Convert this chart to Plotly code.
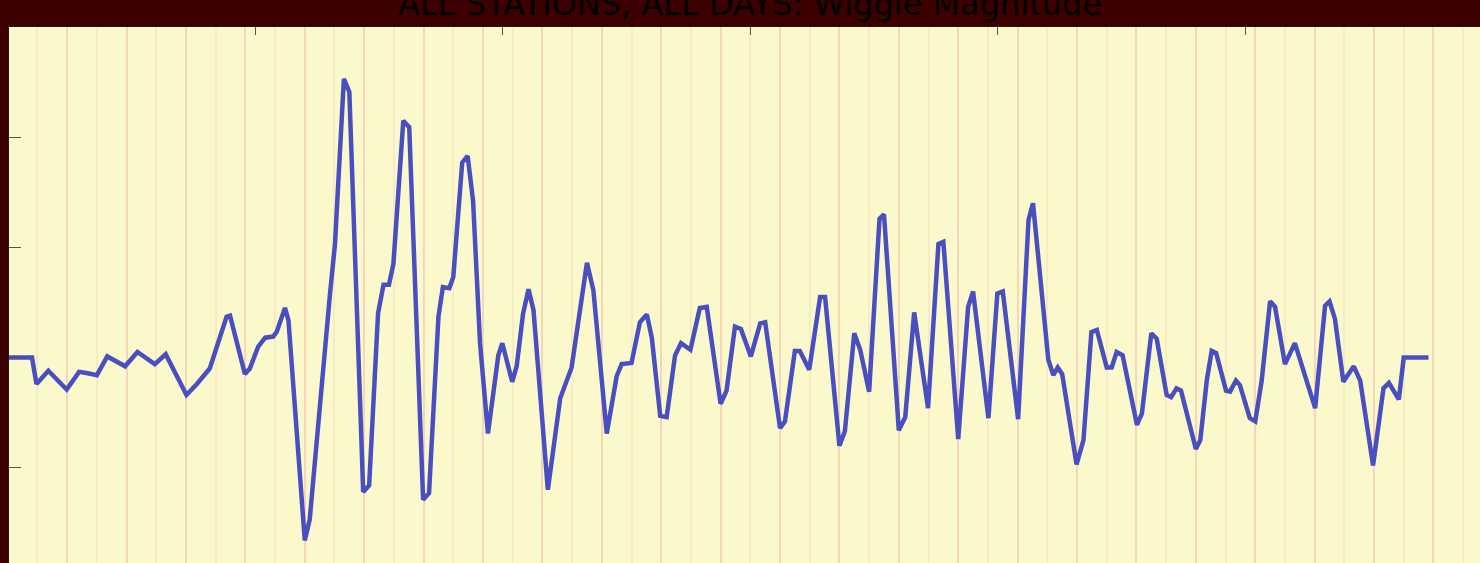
import plotly.graph_objects as go

# Hours (x) and wiggle magnitude (y)
hours = [0, 4.9, 5.8, 8.2, 11.9, 14.4, 15.9, 18.0, 20.1, 23.7, 26.2, 29.7, 31.9, 36.1, 38.2, 40.8,
         44.2, 44.9, 47.9, 48.9, 50.6, 52.0, 53.6, 54.3, 56.0, 56.7, 60.0, 61.0, 65.1, 66.1, 67.9,
         69.0, 71.8, 73.0, 74.8, 75.9, 77.0, 77.9, 79.9, 81.1, 83.9, 85.1, 87.0, 87.9, 89.2, 90.0,
         91.8, 92.9, 94.0, 95.4, 97.0, 99.1, 99.9, 101.9, 102.8, 104.1, 105.2, 106.2, 109.1, 111.6,
         113.9, 115.3, 117.0, 118.3, 121.0, 123.0, 124.0, 126.0, 127.7, 129.1, 130.1, 131.8, 133.1,
         134.8, 136.0, 137.9, 139.8, 141.2, 144.0, 145.2, 146.9, 148.1, 150.1, 152.0, 153.0, 156.0,
         157.0, 159.0, 160.0, 161.9, 164.1, 165.1, 168.0, 169.1, 171.0, 172.2, 174.0, 176.1, 177.0,
         180.0, 181.3, 183.1, 185.9, 188.0, 189.0, 192.0, 194.0, 195.0, 198.1, 199.9, 201.0, 204.1,
         206.2, 207.1, 210.2, 211.2, 212.1, 213.0, 215.9, 217.3, 218.9, 220.0, 222.0, 223.0, 224.0,
         225.2, 228.1, 229.1, 231.0, 232.1, 234.1, 235.0, 236.1, 237.0, 240.0, 240.9, 242.2, 243.2,
         244.1, 246.1, 246.9, 248.1, 248.9, 250.9, 252.0, 253.3, 255.0, 256.0, 258.0, 260.0, 261.7,
         264.1, 266.1, 267.0, 268.1, 269.8, 271.9, 273.2, 275.8, 277.9, 279.0, 281.0, 282.0, 287.0]

magnitude = [0, 0, -0.24, -0.12, -0.29, -0.13, -0.14, -0.16, 0.01, -0.08, 0.05, -0.06, 0.03, -0.34,
             -0.24, -0.10, 0.37, 0.38, -0.15, -0.10, 0.10, 0.18, 0.19, 0.23, 0.45, 0.34, -1.66, -1.47,
             0.58, 1.03, 2.53, 2.41, -1.22, -1.16, 0.40, 0.66, 0.66, 0.85, 2.15, 2.09, -1.29, -1.23,
             0.37, 0.64, 0.63, 0.73, 1.77, 1.83, 1.42, 0.13, -0.69, 0.02, 0.13, -0.22, -0.08, 0.40,
             0.62, 0.43, -1.20, -0.37, -0.09, 0.37, 0.86, 0.61, -0.69, -0.17, -0.06, -0.05, 0.32, 0.39,
             0.18, -0.53, -0.54, 0.02, 0.13, 0.07, 0.45, 0.46, -0.42, -0.30, 0.28, 0.26, 0.01, 0.31,
             0.32, -0.64, -0.58, 0.06, 0.06, -0.11, 0.55, 0.55, -0.80, -0.67, 0.22, 0.07, -0.31, 1.26,
             1.30, -0.66, -0.54, 0.41, -0.46, 1.03, 1.05, -0.74, 0.46, 0.60, -0.55, 0.58, 0.60, -0.56,
             1.25, 1.40, -0.02, -0.16, -0.09, -0.15, -0.97, -0.75, 0.23, 0.25, -0.09, -0.09, 0.05, 0.02,
             -0.61, -0.51, 0.22, 0.17, -0.34, -0.36, -0.28, -0.30, -0.83, -0.75, -0.21, 0.06, 0.04,
             -0.30, -0.31, -0.21, -0.25, -0.55, -0.58, -0.21, 0.51, 0.46, -0.06, 0.13, -0.12, -0.46,
             0.47, 0.51, 0.35, -0.22, -0.08, -0.21, -0.98, -0.28, -0.23, -0.38, 0, 0]

x_tick_vals = [50, 100, 150, 200, 250]
y_tick_vals = [-1, 0, 1, 2]
title_text = "ALL STATIONS, ALL DAYS: Wiggle Magnitude"

X_RANGE = [0.25, 297.4]
Y_RANGE = [-1.865, 3.0]

fig = go.Figure()
fig.add_trace(go.Scatter(
    x=hours, y=magnitude, mode="lines",
    line=dict(color="#4a4fbf", width=4.5),
    xaxis="x", yaxis="y", showlegend=False, hoverinfo="skip",
))
# empty trace so that the top tick axis is instantiated
fig.add_trace(go.Scatter(
    x=[], y=[], mode="lines", xaxis="x2", yaxis="y",
    showlegend=False, hoverinfo="skip",
))

fig.update_layout(
    width=1480, height=563,
    margin=dict(l=9, r=0, t=27, b=0, pad=0),
    paper_bgcolor="#3d0000",
    plot_bgcolor="#fbf8cc",
    showlegend=False,
    xaxis=dict(
        range=X_RANGE, showticklabels=False, zeroline=False,
        showgrid=True, gridcolor="#f5d6ba", gridwidth=2,
        tick0=0, dtick=12, ticks="",
        minor=dict(dtick=6, tick0=0, showgrid=True, gridcolor="#f9eac6", gridwidth=2, ticks=""),
        showline=False,
    ),
    xaxis2=dict(
        overlaying="x", anchor="y", side="top",
        range=X_RANGE, showticklabels=False, showgrid=False, zeroline=False,
        tickmode="array", tickvals=x_tick_vals, ticks="inside", ticklen=8,
        tickcolor="#555555", tickwidth=1,
        showline=True, linecolor="#1a1a1a", linewidth=1,
    ),
    yaxis=dict(
        range=Y_RANGE, showticklabels=False, showgrid=False, zeroline=False,
        tickmode="array", tickvals=y_tick_vals, ticks="inside", ticklen=12,
        tickcolor="#555555", tickwidth=1,
        showline=True, linecolor="#1a1a1a", linewidth=1,
    ),
    annotations=[dict(
        text=title_text, xref="paper", yref="paper", x=0.504, y=1,
        xanchor="center", yanchor="bottom", yshift=2, showarrow=False,
        font=dict(family="DejaVu Sans", size=32, color="#000000"),
    )],
)

fig.write_html(
    "out.html",
    config={"displayModeBar": False},
    post_script="document.body.style.margin='0px';document.body.style.padding='0px';",
)
